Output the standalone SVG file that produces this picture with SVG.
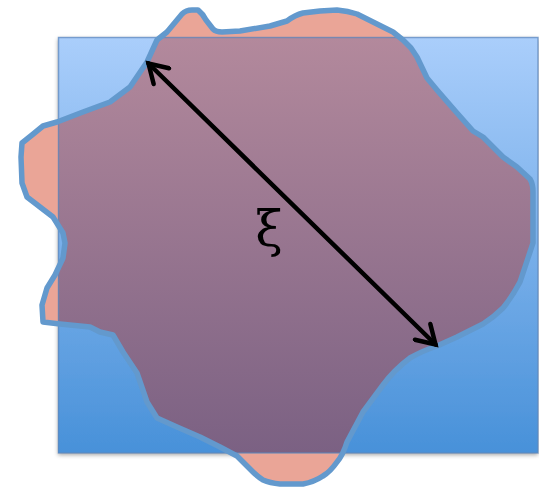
<svg xmlns="http://www.w3.org/2000/svg" width="539" height="489" viewBox="0 0 539 489">
  <style>
    .blobstroke { fill: none; stroke: #6399CD; stroke-width: 5.5; stroke-linejoin: round; }
    .arrow { stroke: #000; stroke-width: 4.5; fill: none; stroke-linecap: round; }
    .label { font-family: "DejaVu Serif", "Liberation Serif", serif; font-size: 50px; fill: #000; }
  </style>
  <defs>
    <linearGradient id="blueGrad" x1="0" y1="37" x2="0" y2="453" gradientUnits="userSpaceOnUse">
      <stop offset="0" stop-color="#AACEFB"/>
      <stop offset="1" stop-color="#4891D9"/>
    </linearGradient>
    <linearGradient id="overlapGrad" x1="0" y1="37" x2="0" y2="453" gradientUnits="userSpaceOnUse">
      <stop offset="0" stop-color="#B3899C"/>
      <stop offset="1" stop-color="#7B6183"/>
    </linearGradient>
    <filter id="shadow" x="-5%" y="-5%" width="110%" height="112%">
      <feDropShadow dx="0" dy="2" stdDeviation="2" flood-color="#000" flood-opacity="0.35"/>
    </filter>
    <clipPath id="rectClip">
      <rect x="58" y="37" width="480" height="416"/>
    </clipPath>
    <path id="blobPath" d="M182,14 Q186,10 192,10 L198,10 Q203,14 206,20 L213,29 Q216,32 222,32 L240,31 L270,26 L287,21 Q295,15 303,13 L320,11 L337,10 Q348,11 357,14 L377,24 L393,32 L403,40 L411,48 L417,57 L427,78 L437,90 L457,113 L473,131 L483,137 L503,157 L517,167 L530,179 Q533,184 533,192 L533,215 L533,243 L528,258 L520,282 Q512,297 503,308 Q494,317 483,324 L457,337 L437,346 Q422,351 410,358 Q394,370 383,385 L363,412 L347,442 Q343,455 337,462 Q330,472 323,476 Q314,482 303,484 L280,484 Q270,483 263,480 Q257,476 253,472 L237,456 L220,447 L200,437 L177,427 L157,418 L147,402 L137,373 L123,352 L113,335 L100,332 L90,327 L60,324 L43,322 L42,305 L47,288 L55,275 L63,258 L65,243 L63,233 L53,217 L40,207 L27,197 L22,183 L21,157 L22,143 L32,135 L43,126 L57,122 L83,112 L110,102 L130,87 L147,62 L157,40 L167,32 Z"/>
    <marker id="head" markerUnits="userSpaceOnUse" viewBox="0 0 26 26" markerWidth="26" markerHeight="26" refX="21" refY="13" orient="auto-start-reverse">
      <path d="M3,2 L21,13 L3,24" fill="none" stroke="#000" stroke-width="4.5" stroke-linecap="round" stroke-linejoin="miter"/>
    </marker>
  </defs>

  <g id="rectangle">
    <rect x="58" y="37" width="480" height="416" fill="url(#blueGrad)" filter="url(#shadow)"/>
  </g>

  <g id="blob">
    <use href="#blobPath" fill="#EAA597"/>
    <use href="#blobPath" fill="url(#overlapGrad)" clip-path="url(#rectClip)"/>
    <rect x="58.5" y="37.5" width="479.5" height="415.5" fill="none" stroke="#5F87BB" stroke-opacity="0.7" stroke-width="1.5"/>
    <use href="#blobPath" class="blobstroke"/>
  </g>

  <g id="connectors">
    <line class="arrow" x1="148.5" y1="63.5" x2="435.5" y2="344.5" marker-start="url(#head)" marker-end="url(#head)"/>
  </g>

  <g id="label">
    <text class="label" x="269" y="246" text-anchor="middle">ξ</text>
  </g>
</svg>
